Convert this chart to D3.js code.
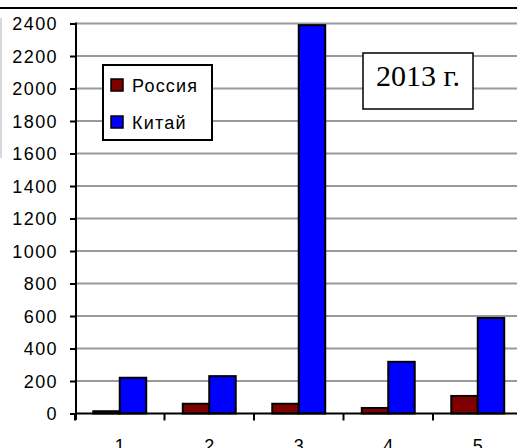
<!DOCTYPE html>
<html>
<head>
<meta charset="utf-8">
<script src="https://cdn.jsdelivr.net/npm/d3@7"></script>
<style>
  body { margin: 0; background: #fff; }
  svg { display: block; }
</style>
</head>
<body>
<div id="chart"></div>
<script>
// chart values
let categories = ["1", "2", "3", "4", "5"];
let seriesNames = ["Россия", "Китай"];
let russia = [14, 60, 60, 34, 108];
let china = [220, 230, 2390, 318, 588];
let yTicks = [0, 200, 400, 600, 800, 1000, 1200, 1400, 1600, 1800, 2000, 2200, 2400];
let colors = ["#800000", "#0000ff"];
let titleText = "2013 г.";

let width = 517, height = 448;
let sans = "Arial, 'Liberation Sans', sans-serif";

let svg = d3.select("#chart").append("svg")
	.attr("width", width)
	.attr("height", height);

// scales
let x = d3.scaleBand()
	.domain(categories)
	.range([75, 522.5])
	.paddingInner(0)
	.paddingOuter(0);

let xSub = d3.scaleBand()
	.domain(seriesNames)
	.range([0, x.bandwidth()])
	.paddingInner(0)
	.paddingOuter(0.69);

let y = d3.scaleLinear()
	.domain([0, 2400])
	.range([413.5, 23.5]);

// frame bits
svg.append("line")
	.attr("x1", 0).attr("x2", width)
	.attr("y1", 8).attr("y2", 8)
	.attr("stroke", "#000").attr("stroke-width", 2);

svg.append("line")
	.attr("x1", 1).attr("x2", 1)
	.attr("y1", 18).attr("y2", 158)
	.attr("stroke", "#b0b0b0").attr("stroke-width", 1);

// gridlines
svg.append("g")
	.selectAll("line")
	.data(yTicks.filter(d => d > 0))
	.join("line")
	.attr("x1", 76).attr("x2", width)
	.attr("y1", d => y(d)).attr("y2", d => y(d))
	.attr("stroke", "#9a9a9a")
	.attr("stroke-width", 2);

// y axis
let yAxis = d3.axisLeft(y)
	.tickValues(yTicks)
	.tickFormat(d3.format("d"))
	.tickSize(6)
	.tickSizeOuter(0)
	.tickPadding(12);

let gy = svg.append("g")
	.attr("transform", "translate(76,0)")
	.call(yAxis);
gy.select(".domain").remove();
gy.selectAll(".tick line").attr("stroke", "#000").attr("stroke-width", 2);
gy.selectAll(".tick text")
	.style("font-family", sans)
	.style("font-size", "18px")
	.attr("fill", "#000")
	.attr("letter-spacing", 1.4)
	.attr("dy", "0.36em");

svg.append("line")
	.attr("x1", 76).attr("x2", 76)
	.attr("y1", y(2400) - 1).attr("y2", 420)
	.attr("stroke", "#000").attr("stroke-width", 2);

// bars
let rows = categories.map((c, i) => ({ key: c, values: [russia[i], china[i]] }));

let groups = svg.append("g")
	.selectAll("g")
	.data(rows)
	.join("g")
	.attr("transform", d => "translate(" + x(d.key) + ",0)");

groups.selectAll("rect")
	.data(d => d.values.map((v, j) => ({ name: seriesNames[j], value: v, j: j })))
	.join("rect")
	.attr("x", d => xSub(d.name))
	.attr("y", d => y(d.value))
	.attr("width", xSub.bandwidth())
	.attr("height", d => y(0) - y(d.value))
	.attr("fill", d => colors[d.j])
	.attr("stroke", "#000")
	.attr("stroke-width", 2);

// x axis
let xAxis = d3.axisBottom(x).tickSize(0).tickPadding(26);
let gx = svg.append("g")
	.attr("transform", "translate(0," + y(0) + ")")
	.call(xAxis);
gx.select(".domain").remove();
gx.selectAll(".tick text")
	.style("font-family", sans)
	.style("font-size", "18px")
	.attr("fill", "#000");

svg.append("line")
	.attr("x1", 75).attr("x2", width)
	.attr("y1", y(0)).attr("y2", y(0))
	.attr("stroke", "#000").attr("stroke-width", 2);

// category separators on x axis
svg.append("g")
	.selectAll("line")
	.data(categories)
	.join("line")
	.attr("x1", d => x(d)).attr("x2", d => x(d))
	.attr("y1", y(0)).attr("y2", y(0) + 7)
	.attr("stroke", "#000").attr("stroke-width", 2);

// legend
let legend = svg.append("g").attr("transform", "translate(103,65)");
legend.append("rect")
	.attr("width", 109).attr("height", 75)
	.attr("fill", "#fff")
	.attr("stroke", "#000").attr("stroke-width", 2);

let items = legend.selectAll("g.item")
	.data(seriesNames)
	.join("g")
	.attr("class", "item")
	.attr("transform", (d, i) => "translate(8," + (14 + i * 37) + ")");
items.append("rect")
	.attr("width", 12).attr("height", 12)
	.attr("fill", (d, i) => colors[i])
	.attr("stroke", "#000").attr("stroke-width", 1.5);
items.append("text")
	.attr("x", 21).attr("y", 12.5)
	.style("font-family", sans)
	.style("font-size", "18px")
	.attr("letter-spacing", 1.2)
	.text(d => d);

// title box
let tb = svg.append("g").attr("transform", "translate(363,53)");
tb.append("rect")
	.attr("width", 110).attr("height", 56)
	.attr("fill", "#fff")
	.attr("stroke", "#000").attr("stroke-width", 1.5);
tb.append("text")
	.attr("x", 55).attr("y", 33)
	.attr("text-anchor", "middle")
	.style("font-family", "'Liberation Serif', 'Times New Roman', serif")
	.style("font-size", "30px")
	.text(titleText);
</script>
</body>
</html>
